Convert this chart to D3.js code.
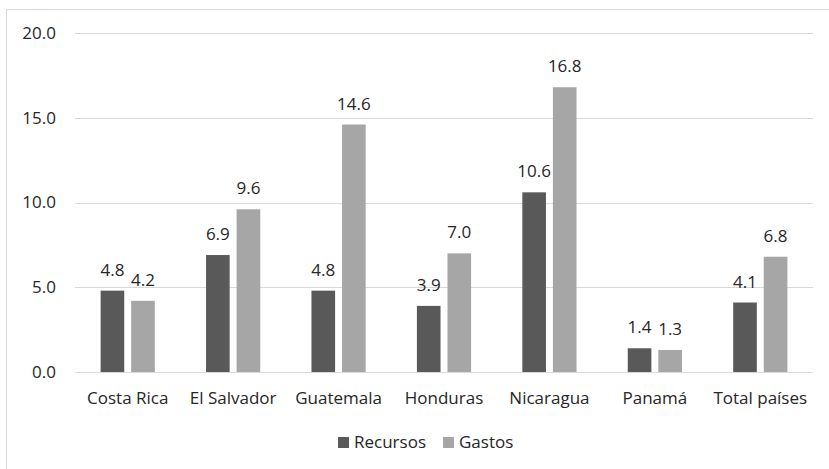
<!DOCTYPE html>
<html><head><meta charset="utf-8">
<script src="https://cdn.jsdelivr.net/npm/d3@7"></script>
<style>body{margin:0;background:#fff;}svg{display:block;}</style>
</head><body>
<script>
const categories = ["Costa Rica","El Salvador","Guatemala","Honduras","Nicaragua","Panamá","Total países"];
const recursos = [4.8, 6.9, 4.8, 3.9, 10.6, 1.4, 4.1];
const gastos = [4.2, 9.6, 14.6, 7.0, 16.8, 1.3, 6.8];
const yTicks = [0, 5, 10, 15, 20];
const seriesNames = ["Recursos","Gastos"];
const colors = ["#595959","#a6a6a6"];

const W = 829, H = 469;
const font = "'Open Sans', sans-serif";
const fs = 17;
const svg = d3.select("body").append("svg").attr("width", W).attr("height", H);
svg.append("rect").attr("x", 6.5).attr("y", 9.5).attr("width", W).attr("height", H)
  .attr("fill", "#fff").attr("stroke", "#d9d9d9");

const x = d3.scaleBand().domain(categories).range([75, 813]);
const y = d3.scaleLinear().domain([0, 20]).range([372, 33]);

const g = svg.append("g");
g.selectAll("line.grid").data(yTicks).join("line")
  .attr("x1", 75).attr("x2", 813)
  .attr("y1", d => Math.round(y(d)) + 0.5).attr("y2", d => Math.round(y(d)) + 0.5)
  .attr("stroke", "#d9d9d9").attr("stroke-width", 1);

g.selectAll("text.ytick").data(yTicks).join("text")
  .attr("x", 56).attr("y", d => y(d)).attr("dy", "0.35em")
  .attr("text-anchor", "end").attr("font-family", font).attr("font-size", fs)
  .attr("fill", "#262626").text(d => d.toFixed(1));

const bw = x.bandwidth() * 0.224;
const gap = x.bandwidth() * 0.066;
const data = [];
categories.forEach((c, i) => {
  data.push({c, s: 0, v: recursos[i]});
  data.push({c, s: 1, v: gastos[i]});
});
const bx = d => x(d.c) + x.bandwidth() / 2 + (d.s === 0 ? -gap / 2 - bw : gap / 2);

g.selectAll("rect.bar").data(data).join("rect")
  .attr("x", bx).attr("width", bw)
  .attr("y", d => y(d.v)).attr("height", d => y(0) - y(d.v))
  .attr("fill", d => colors[d.s]);

g.selectAll("text.lbl").data(data).join("text")
  .attr("x", d => bx(d) + bw / 2).attr("y", d => y(d.v) - 15)
  .attr("text-anchor", "middle").attr("font-family", font).attr("font-size", fs)
  .attr("fill", "#262626").text(d => d.v.toFixed(1));

g.selectAll("text.xl").data(categories).join("text")
  .attr("x", d => x(d) + x.bandwidth() / 2).attr("y", 404)
  .attr("text-anchor", "middle").attr("font-family", font).attr("font-size", fs)
  .attr("fill", "#262626").text(d => d);

const legX = [338, 443];
const leg = svg.append("g");
seriesNames.forEach((s, i) => {
  leg.append("rect").attr("x", legX[i]).attr("y", 437).attr("width", 11).attr("height", 11).attr("fill", colors[i]);
  leg.append("text").attr("x", legX[i] + 16).attr("y", 442).attr("dy", "0.35em")
    .attr("font-family", font).attr("font-size", fs).attr("fill", "#262626").text(s);
});
</script>
</body></html>
